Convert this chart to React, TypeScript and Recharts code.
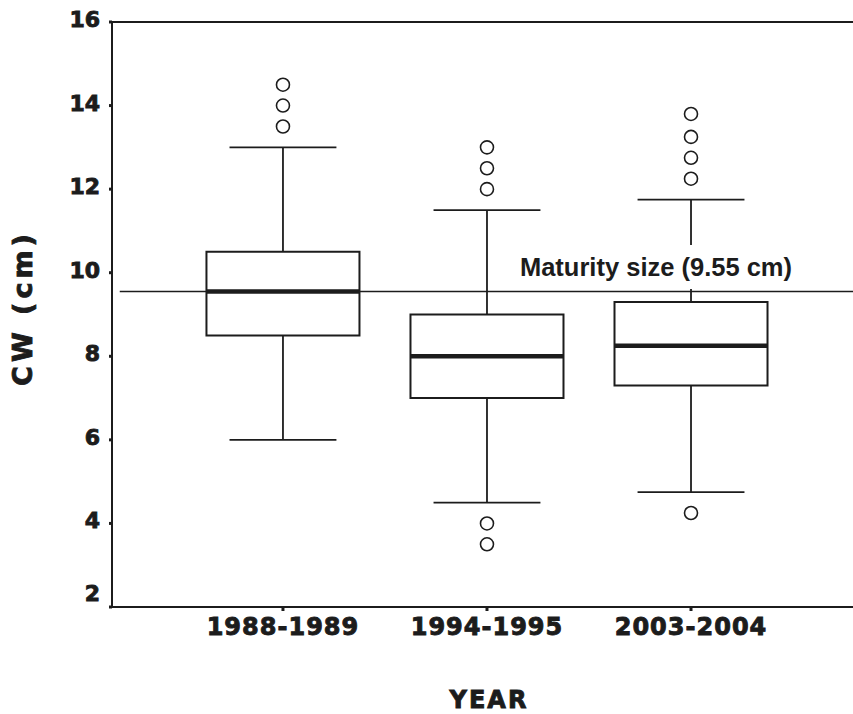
import React from "react"
import {
  ComposedChart,
  XAxis,
  YAxis,
  Scatter,
  ReferenceArea,
  ReferenceLine,
  Label,
} from "recharts"

// box plot summary per period (CW, cm)
const categories = ["1988-1989", "1994-1995", "2003-2004"]
const whiskerLow = [6.0, 4.5, 4.75]
const q1 = [8.5, 7.0, 7.3]
const median = [9.55, 8.0, 8.25]
const q3 = [10.5, 9.0, 9.3]
const whiskerHigh = [13.0, 11.5, 11.75]
const outliers = [
  [13.5, 14.0, 14.5],
  [3.5, 4.0, 12.0, 12.5, 13.0],
  [4.25, 12.25, 12.75, 13.25, 13.8],
]
const maturitySize = 9.55
const yTicks = [2, 4, 6, 8, 10, 12, 14, 16]
const xTicks = [1, 2, 3]

const INK = "#1c1c1c"
const BOX_HALF = 0.375
const CAP_HALF = 0.262

const outlierPoints = outliers.flatMap((vals, i) => vals.map((v) => ({ x: i + 1, y: v })))

// heavy look for the axis text (reference uses a black-weight face)
const heavy = { stroke: INK, strokeWidth: 0.9, paintOrder: "stroke" } as const

const YTick = (props: any) => {
  const { x, y, payload } = props
  const v = payload.value
  const dy = v === 2 ? -6 : 5
  return (
    <text
      x={x}
      y={y + dy}
      textAnchor="end"
      fill={INK}
      fontFamily="DejaVu Sans"
      fontWeight="bold"
      fontSize={22}
      {...heavy}
    >
      {v}
    </text>
  )
}

const XTick = (props: any) => {
  const { x, y, payload } = props
  return (
    <text
      x={x}
      y={y + 24}
      textAnchor="middle"
      fill={INK}
      fontFamily="DejaVu Sans"
      fontWeight="bold"
      fontSize={24}
      letterSpacing={1}
      {...heavy}
    >
      {categories[payload.value - 1]}
    </text>
  )
}

const MaturityLabel = () => (
  <g>
    <rect x={514} y={245} width={284} height={44} fill="#fff" />
    <text
      x={656}
      y={276}
      textAnchor="middle"
      fill={INK}
      fontFamily="Liberation Sans"
      fontWeight="bold"
      fontSize={25.5}
    >
      Maturity size (9.55 cm)
    </text>
  </g>
)

export default function App() {
  return (
    <div style={{ position: "absolute", left: 0, top: 0, background: "#fff" }}>
      <ComposedChart
        width={853}
        height={714}
        data={outlierPoints}
        margin={{ top: 22, right: 0, bottom: 0, left: 0 }}
      >
        <XAxis
          dataKey="x"
          type="number"
          domain={[0.162, 3.794]}
          allowDataOverflow
          ticks={xTicks}
          height={107}
          tickSize={4}
          tickMargin={0}
          axisLine={{ stroke: INK, strokeWidth: 2 }}
          tickLine={{ stroke: INK, strokeWidth: 3 }}
          tick={<XTick />}
        >
          <Label
            content={() => (
              <text
                x={489}
                y={708}
                textAnchor="middle"
                fill={INK}
                fontFamily="DejaVu Sans"
                fontWeight="bold"
                fontSize={24}
                letterSpacing={2}
                {...heavy}
              >
                YEAR
              </text>
            )}
          />
        </XAxis>
        <YAxis
          dataKey="y"
          type="number"
          domain={[2, 16]}
          ticks={yTicks}
          width={112}
          tickSize={3}
          tickMargin={9}
          axisLine={{ stroke: INK, strokeWidth: 2 }}
          tickLine={{ stroke: INK, strokeWidth: 3 }}
          tick={<YTick />}
        >
          <Label
            content={() => (
              <text
                x={0}
                y={0}
                transform="translate(32 308) rotate(-90)"
                textAnchor="middle"
                fill={INK}
                fontFamily="DejaVu Sans"
                fontWeight="bold"
                fontSize={27}
                letterSpacing={4}
                {...heavy}
              >
                CW (cm)
              </text>
            )}
          />
        </YAxis>

        {/* top frame line */}
        <ReferenceLine y={16} stroke={INK} strokeWidth={2} />

        {categories.map((c, i) => {
          const cx = i + 1
          return (
            <React.Fragment key={c}>
              <ReferenceLine
                segment={[{ x: cx, y: q3[i] }, { x: cx, y: whiskerHigh[i] }]}
                stroke={INK}
                strokeWidth={1.8}
              />
              <ReferenceLine
                segment={[{ x: cx, y: whiskerLow[i] }, { x: cx, y: q1[i] }]}
                stroke={INK}
                strokeWidth={1.8}
              />
              <ReferenceLine
                segment={[{ x: cx - CAP_HALF, y: whiskerHigh[i] }, { x: cx + CAP_HALF, y: whiskerHigh[i] }]}
                stroke={INK}
                strokeWidth={1.8}
              />
              <ReferenceLine
                segment={[{ x: cx - CAP_HALF, y: whiskerLow[i] }, { x: cx + CAP_HALF, y: whiskerLow[i] }]}
                stroke={INK}
                strokeWidth={1.8}
              />
              <ReferenceArea
                x1={cx - BOX_HALF}
                x2={cx + BOX_HALF}
                y1={q1[i]}
                y2={q3[i]}
                fill="#fff"
                fillOpacity={1}
                stroke={INK}
                strokeWidth={2}
              />
              <ReferenceLine
                segment={[{ x: cx - BOX_HALF, y: median[i] }, { x: cx + BOX_HALF, y: median[i] }]}
                stroke={INK}
                strokeWidth={4.5}
              />
            </React.Fragment>
          )
        })}

        <ReferenceLine
          segment={[{ x: 0.2, y: maturitySize }, { x: 3.794, y: maturitySize }]}
          stroke={INK}
          strokeWidth={1.5}
          label={<MaturityLabel />}
        />

        <Scatter
          dataKey="y"
          isAnimationActive={false}
          shape={(p: any) => (
            <circle cx={p.cx} cy={p.cy} r={6.5} fill="#fff" stroke={INK} strokeWidth={1.6} />
          )}
        />
      </ComposedChart>
    </div>
  )
}
